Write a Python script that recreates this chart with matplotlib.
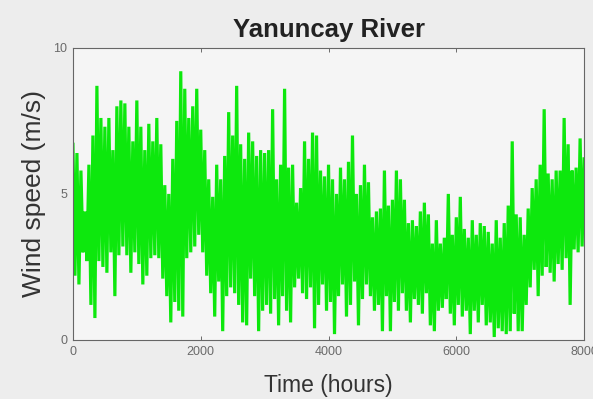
import numpy as np
import matplotlib
matplotlib.use("Agg")
import matplotlib.pyplot as plt

plt.rcParams['font.family'] = ['Liberation Sans', 'DejaVu Sans']

# Read-off wind speed extremes (alternating high / low), evenly spaced in time
wind_hi = [6.7, 6.4, 5.8, 4.4, 6.0, 7.0, 8.7, 7.6, 7.3, 7.6, 6.5, 8.0, 8.2, 8.1, 7.3, 6.8,
           8.2, 7.3, 6.5, 7.4, 6.8, 7.6, 6.7, 5.3, 5.0, 6.2, 7.5, 9.2, 8.6, 7.6, 8.0, 8.6,
           7.2, 6.5, 5.5, 4.9, 6.0, 5.5, 6.3, 7.8, 7.0, 8.7, 6.7, 6.2, 7.1, 6.8, 6.3, 6.5,
           6.4, 6.5, 7.9, 5.5, 6.0, 8.6, 5.9, 6.0, 4.7, 5.2, 6.8, 6.2, 7.1, 7.0, 5.8, 5.6,
           6.0, 5.5, 5.0, 5.9, 5.5, 6.1, 7.0, 5.0, 5.3, 6.0, 5.4, 4.2, 4.4, 4.5, 5.8, 4.6,
           4.8, 5.8, 5.5, 4.8, 4.0, 4.1, 3.9, 4.4, 4.7, 4.3, 3.3, 4.1, 3.3, 3.5, 5.0, 3.6,
           4.2, 4.9, 3.8, 3.5, 4.1, 3.6, 4.0, 3.9, 3.7, 3.3, 4.1, 3.5, 4.0, 4.6, 6.8, 4.3,
           4.2, 3.6, 4.5, 5.2, 5.5, 6.0, 7.9, 5.7, 5.5, 5.8, 5.8, 7.6, 6.7, 5.8, 5.9, 6.9,
           6.2]
wind_lo = [2.2, 1.9, 3.0, 2.7, 1.2, 0.75, 2.7, 2.5, 2.3, 3.0, 1.5, 2.9, 3.2, 2.9, 2.3, 3.0,
           2.6, 1.9, 2.2, 2.8, 2.9, 2.8, 2.1, 1.5, 0.6, 1.3, 1.0, 0.8, 2.8, 3.0, 3.2, 3.6,
           3.0, 2.2, 1.6, 0.8, 2.0, 0.3, 1.5, 1.8, 1.6, 1.2, 0.6, 0.5, 2.1, 1.5, 0.3, 1.0,
           1.2, 0.9, 1.4, 0.5, 1.5, 1.0, 0.6, 1.8, 2.1, 1.6, 1.4, 1.8, 0.4, 1.2, 1.9, 1.0,
           1.3, 0.2, 1.5, 1.9, 0.8, 1.2, 2.0, 0.5, 1.4, 1.9, 1.5, 1.0, 1.2, 0.3, 1.5, 0.3,
           1.3, 1.0, 1.6, 1.0, 0.6, 1.4, 1.2, 0.9, 1.6, 0.5, 0.3, 1.0, 1.1, 1.4, 0.9, 0.5,
           1.2, 0.8, 1.0, 0.2, 1.0, 0.6, 1.2, 0.5, 0.6, 0.1, 0.4, 0.3, 0.2, 0.3, 0.9, 0.3,
           0.3, 1.2, 1.8, 2.4, 1.5, 2.2, 2.5, 2.3, 2.0, 2.6, 2.4, 2.8, 1.2, 3.1, 3.0, 3.2,
           3.0]

speed = []
for h, l in zip(wind_hi, wind_lo):
    speed.extend([h, l])
speed = np.array(speed[:-1])
hours = np.linspace(0, 8000, len(speed))

fig = plt.figure(figsize=(5.93, 3.99), dpi=100, facecolor='#ededed')
ax = fig.add_axes([0.123, 0.148, 0.862, 0.732])
ax.set_facecolor('#f5f5f5')
ax.plot(hours, speed, color='#0de80d', lw=2.3, solid_joinstyle='miter')

ax.set_xlim(0, 8000)
ax.set_ylim(0, 10)
ax.set_xticks([0, 2000, 4000, 6000, 8000])
ax.set_yticks([0, 5, 10])
ax.tick_params(direction='in', top=True, right=True, length=3, width=0.6,
               labelsize=9, labelcolor='#6a6a6a', color='#555555', pad=4)
for s in ax.spines.values():
    s.set_color('#666666')
    s.set_linewidth(0.8)

ax.set_title('Yanuncay River', fontsize=18.5, fontweight='bold', color='#222222', pad=8)
ax.set_xlabel('Time (hours)', fontsize=16.5, color='#333333', labelpad=12)
ax.set_ylabel('Wind speed (m/s)', fontsize=19, color='#333333', labelpad=5)

fig.savefig('out.png', dpi=100, facecolor=fig.get_facecolor())
